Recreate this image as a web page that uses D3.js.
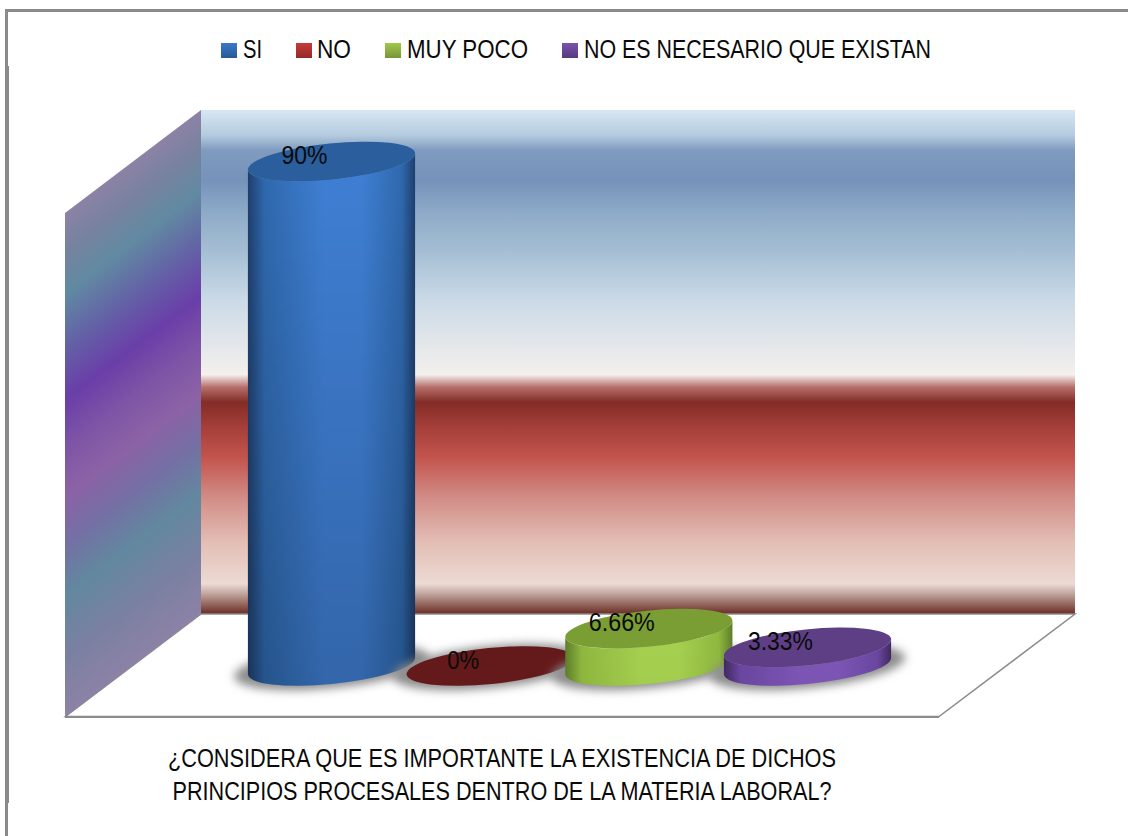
<!DOCTYPE html>
<html><head><meta charset="utf-8">
<script src="https://cdn.jsdelivr.net/npm/d3@7"></script>
<style>html,body{margin:0;padding:0;background:#fff}svg{display:block}text{font-family:"Liberation Sans",sans-serif;fill:#0a0a0a}</style>
</head><body><div id="c"></div>
<script>
const categories=["SI","NO","MUY POCO","NO ES NECESARIO QUE EXISTAN"];
const values=[90,0,6.66,3.33];
const valueLabels=["90%","0%","6.66%","3.33%"];
const titleLines=["¿CONSIDERA QUE ES IMPORTANTE LA EXISTENCIA DE DICHOS","PRINCIPIOS PROCESALES DENTRO DE LA MATERIA LABORAL?"];
const sideColors=["#1f3f6e","#6a2020","#5f7d2a","#40295f"];
const midColors=["#3f7fd4","#8a2a2a","#a5d04f","#7d55b5"];
const midColors2=["#2f69ae","#7a2020","#8fb83f","#6a46a0"];
const topColors=["#2a5e9c","#641a1a","#7a9e33","#5e3f86"];
const legendTop=["#3c78c8","#c43c3a","#a2c94a","#7a52ac"];
const legendBottom=["#265a98","#942a28","#76943a","#553a80"];
const legendSwatchX=[221,296,385,562];
const legendTextX=[243,317,407,584];
const legendWidths=[19,34,121,347];
const labelWidths=[46,32,66,65];
const titleWidths=[668,659];
const wallStops=[[0,"#d8e7f2"],[.05,"#b4cbdf"],[.08,"#7f9bbf"],[.14,"#7792ba"],[.2,"#8ca9c7"],[.28,"#a5bed4"],[.38,"#cbdae7"],[.525,"#f4f0ed"],[.55,"#b66f6a"],[.58,"#832c27"],[.63,"#a53f39"],[.69,"#c3544e"],[.77,"#d28d87"],[.86,"#e3bfb6"],[.94,"#ecdad3"],[.96,"#c0a59c"],[1,"#6a2c24"]];
const sideStops=[[0,"#8c82a6"],[.08,"#76829f"],[.16,"#618aa2"],[.26,"#6364a6"],[.37,"#6a3ea8"],[.47,"#7e55a6"],[.56,"#8c62a6"],[.66,"#7470a4"],[.76,"#62889f"],[.88,"#7a80a2"],[1,"#8c82a6"]];

const W=1128,H=836;
const svg=d3.select("#c").append("svg").attr("width",W).attr("height",H);
const defs=svg.append("defs");
function grad(id,stops,attrs){const g=defs.append("linearGradient").attr("id",id);
 Object.entries(attrs).forEach(([k,v])=>g.attr(k,v));
 stops.forEach(s=>g.append("stop").attr("offset",s[0]).attr("stop-color",s[1]));}
grad("wall",wallStops,{x1:0,y1:0,x2:0,y2:1});
grad("side",sideStops,{gradientUnits:"userSpaceOnUse",x1:65,y1:213,x2:307.6,y2:533.3});
categories.forEach((c,i)=>{
 grad("body"+i,[[0,sideColors[i]],[.1,midColors2[i]],[.45,midColors[i]],[.68,midColors[i]],[.92,midColors2[i]],[1,sideColors[i]]],{x1:0,y1:0,x2:1,y2:0});
 grad("leg"+i,[[0,legendTop[i]],[1,legendBottom[i]]],{x1:0,y1:0,x2:0,y2:1});
});
grad("fade",[[0,"#000"],[1,"#000"]],{x1:0,y1:0,x2:0,y2:1});
defs.select("#fade").selectAll("stop").attr("stop-opacity",(d,i)=>i?0.2:0);
defs.append("filter").attr("id","blur").attr("x","-20%").attr("y","-50%").attr("width","140%").attr("height","200%")
 .append("feGaussianBlur").attr("stdDeviation",5);

// frame
const frame=svg.append("g").attr("fill","#8a8a8a");
frame.append("rect").attr("x",5).attr("y",9).attr("width",W-5).attr("height",3);
frame.append("rect").attr("x",5).attr("y",9).attr("width",3).attr("height",H-9);
frame.append("rect").attr("x",5).attr("y",66).attr("width",4).attr("height",737);

// walls and floor
svg.append("rect").attr("x",201).attr("y",110).attr("width",874).attr("height",504).attr("fill","url(#wall)");
svg.append("path").attr("d","M201,614H1075L939,716.5H65.5L201,614").attr("fill","#fff").attr("stroke","#8c8c8c").attr("stroke-width",1.5);
svg.append("path").attr("d","M65,717H939").attr("fill","none").attr("stroke","#8c8c8c").attr("stroke-width",2);
svg.append("polygon").attr("points","65,213 201,110 201,614 65,717").attr("fill","url(#side)");

// scales
const x=d3.scalePoint().domain(categories).range([331.5,807.5]);
const y=d3.scaleLinear().domain([0,90]).range([666,161.5]);
const a=84,b=18,rot=-5.8;
const th=rot*Math.PI/180;
const xe=Math.sqrt(a*a*Math.cos(th)**2+b*b*Math.sin(th)**2);
const ye=(a*a-b*b)*Math.abs(Math.sin(th)*Math.cos(th))/xe;

const bars=svg.append("g").selectAll("g").data(categories).join("g");
bars.append("ellipse").attr("cx",d=>x(d)).attr("cy",y(0)+1).attr("rx",a+14).attr("ry",b+3)
 .attr("transform",d=>`rotate(${rot} ${x(d)} ${y(0)})`).attr("fill","#8c8c8c").attr("filter","url(#blur)");
function bodyPath(d,i){const cx=x(d),t=y(values[i]),bb=y(0);
 return `M${cx-xe},${t+ye}L${cx-xe},${bb+ye}A${a},${b} ${rot} 0 0 ${cx+xe},${bb-ye}L${cx+xe},${t-ye}A${a},${b} ${rot} 0 1 ${cx-xe},${t+ye}Z`;}
bars.each(function(d,i){ if(values[i]<=0) return;
 d3.select(this).append("path").attr("d",bodyPath(d,i)).attr("fill",`url(#body${i})`);
 d3.select(this).append("path").attr("d",bodyPath(d,i)).attr("fill","url(#fade)").attr("opacity",values[i]/90);});
bars.append("ellipse").attr("cx",d=>x(d)).attr("cy",(d,i)=>y(values[i])).attr("rx",a).attr("ry",b)
 .attr("transform",(d,i)=>`rotate(${rot} ${x(d)} ${y(values[i])})`).attr("fill",(d,i)=>topColors[i]);

// value labels
svg.append("g").selectAll("text").data(categories).join("text")
 .attr("x",d=>x(d)-27).attr("y",(d,i)=>y(values[i])+2.5).attr("text-anchor","middle")
 .attr("textLength",(d,i)=>labelWidths[i]).attr("lengthAdjust","spacingAndGlyphs")
 .attr("font-size",26).text((d,i)=>valueLabels[i]);

// legend
const lg=svg.append("g");
lg.selectAll("rect").data(categories).join("rect").attr("x",(d,i)=>legendSwatchX[i]).attr("y",43).attr("width",16).attr("height",15)
 .attr("fill",(d,i)=>`url(#leg${i})`);
lg.selectAll("text").data(categories).join("text").attr("x",(d,i)=>legendTextX[i]).attr("y",58)
 .attr("textLength",(d,i)=>legendWidths[i]).attr("lengthAdjust","spacingAndGlyphs").attr("font-size",26).text(d=>d);

// category title
svg.append("g").selectAll("text").data(titleLines).join("text").attr("x",502).attr("y",(d,i)=>767+i*33)
 .attr("text-anchor","middle").attr("textLength",(d,i)=>titleWidths[i]).attr("lengthAdjust","spacingAndGlyphs")
 .attr("font-size",26).text(d=>d);
</script></body></html>
